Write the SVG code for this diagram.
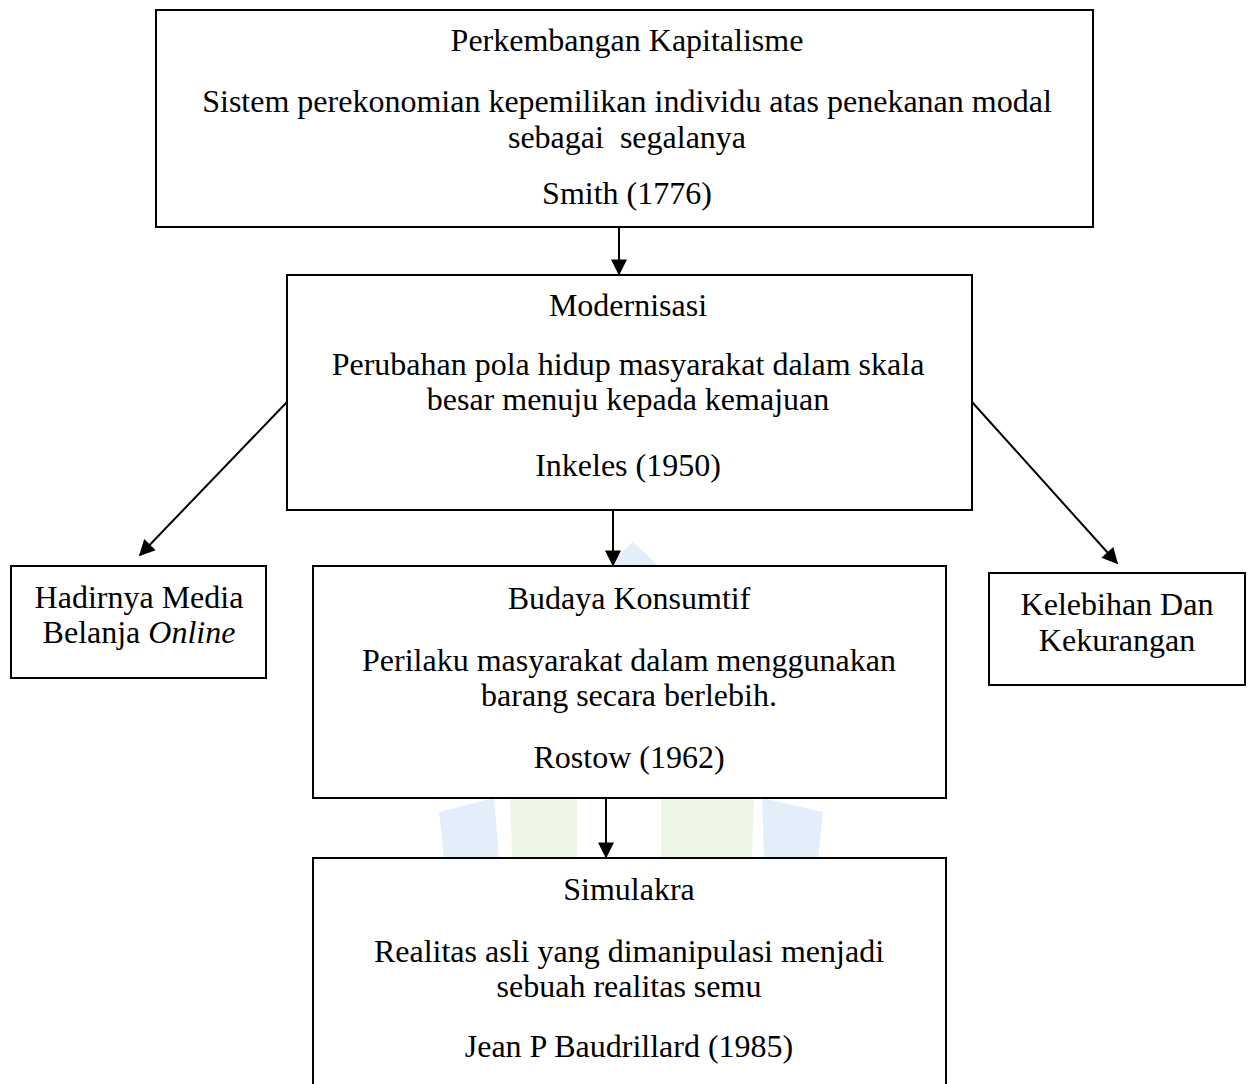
<svg xmlns="http://www.w3.org/2000/svg" width="1248" height="1084" viewBox="0 0 1248 1084">
<style>
.box{fill:#fff;stroke:#000;stroke-width:2}
.t{font-family:"Liberation Serif","Times New Roman",serif;font-size:32px;fill:#000;text-anchor:middle}
.edge{stroke:#000;stroke-width:2;fill:none}
.wb{fill:#e2eef9}
.wg{fill:#eef6e6}
</style>
<defs>
<marker id="ah" viewBox="0 0 10 10" refX="9" refY="5" markerWidth="9" markerHeight="8" markerUnits="strokeWidth" orient="auto">
<path d="M0,0 L10,5 L0,10 z" fill="#000"/>
</marker>
</defs>
<rect width="1248" height="1084" fill="#fff"/>
<g id="watermark">
<polygon class="wb" points="608,566 633,542 658,566"/>
<polygon class="wb" points="439,812 494,798 499,858 444,858"/>
<polygon class="wg" points="510,798 577,798 577,858 512,858"/>
<polygon class="wg" points="661,798 754,798 752,858 661,858"/>
<polygon class="wb" points="762,798 823,812 818,858 764,858"/>
</g>
<g id="connectors">
<line class="edge" x1="619" y1="227" x2="619" y2="274" marker-end="url(#ah)"/>
<line class="edge" x1="287" y1="402" x2="140" y2="555" marker-end="url(#ah)"/>
<line class="edge" x1="613" y1="510" x2="613" y2="565" marker-end="url(#ah)"/>
<line class="edge" x1="972" y1="402" x2="1117" y2="563" marker-end="url(#ah)"/>
<line class="edge" x1="606" y1="798" x2="606" y2="857" marker-end="url(#ah)"/>
</g>
<g id="node-kapitalisme">
<rect class="box" x="156" y="10" width="937" height="217"/>
<text class="t" x="627" y="51">Perkembangan Kapitalisme</text>
<text class="t" x="627" y="112">Sistem perekonomian kepemilikan individu atas penekanan modal</text>
<text class="t" x="627" y="148" xml:space="preserve">sebagai  segalanya</text>
<text class="t" x="627" y="204">Smith (1776)</text>
</g>
<g id="node-modernisasi">
<rect class="box" x="287" y="275" width="685" height="235"/>
<text class="t" x="628" y="316">Modernisasi</text>
<text class="t" x="628" y="375">Perubahan pola hidup masyarakat dalam skala</text>
<text class="t" x="628" y="410">besar menuju kepada kemajuan</text>
<text class="t" x="628" y="476">Inkeles (1950)</text>
</g>
<g id="node-hadirnya">
<rect class="box" x="11" y="566" width="255" height="112"/>
<text class="t" x="139" y="608">Hadirnya Media</text>
<text class="t" x="139" y="643">Belanja <tspan font-style="italic">Online</tspan></text>
</g>
<g id="node-budaya">
<rect class="box" x="313" y="566" width="633" height="232"/>
<text class="t" x="629" y="609">Budaya Konsumtif</text>
<text class="t" x="629" y="671">Perilaku masyarakat dalam menggunakan</text>
<text class="t" x="629" y="706">barang secara berlebih.</text>
<text class="t" x="629" y="768">Rostow (1962)</text>
</g>
<g id="node-kelebihan">
<rect class="box" x="989" y="573" width="256" height="112"/>
<text class="t" x="1117" y="615">Kelebihan Dan</text>
<text class="t" x="1117" y="651">Kekurangan</text>
</g>
<g id="node-simulakra">
<rect class="box" x="313" y="858" width="633" height="240"/>
<text class="t" x="629" y="900">Simulakra</text>
<text class="t" x="629" y="962">Realitas asli yang dimanipulasi menjadi</text>
<text class="t" x="629" y="997">sebuah realitas semu</text>
<text class="t" x="629" y="1057">Jean P Baudrillard (1985)</text>
</g>
</svg>
